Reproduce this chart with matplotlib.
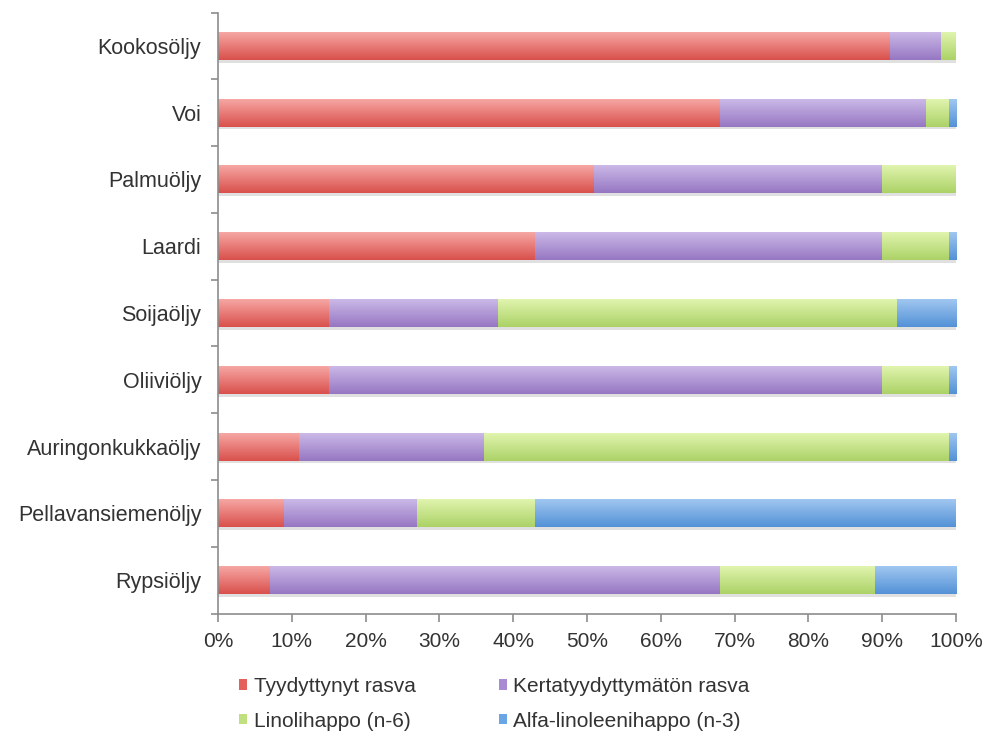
import numpy as np
import matplotlib.pyplot as plt
from matplotlib.colors import LinearSegmentedColormap
from matplotlib.patches import Patch
import matplotlib.patheffects as pe

plt.rcParams['font.family'] = ['Liberation Sans', 'DejaVu Sans']

# rasvahappokoostumus (%), ylhäältä alas
oljyt = ['Kookosöljy', 'Voi', 'Palmuöljy', 'Laardi', 'Soijaöljy',
         'Oliiviöljy', 'Auringonkukkaöljy', 'Pellavansiemenöljy', 'Rypsiöljy']
tyydyttynyt = [91, 68, 51, 43, 15, 15, 11, 9, 7]
kertatyydyttymaton = [7, 28, 39, 47, 23, 75, 25, 18, 61]
linolihappo = [2, 3, 10, 9, 54, 9, 63, 16, 21]
alfalinoleeni = [0, 1, 0, 1, 8, 1, 1, 57, 11]

sarjat = ['Tyydyttynyt rasva', 'Kertatyydyttymätön rasva',
          'Linolihappo (n-6)', 'Alfa-linoleenihappo (n-3)']
arvot = [tyydyttynyt, kertatyydyttymaton, linolihappo, alfalinoleeni]
# (vaalea yläreuna, tumma alareuna, selitteen väri)
varit = [('#f7aaa7', '#d9504c', '#e4605c'),
         ('#cdbbe9', '#9677c2', '#a88bd2'),
         ('#e2f5b0', '#acd267', '#c0e07f'),
         ('#a3c9f2', '#5391d6', '#6aa6e6')]

fig = plt.figure(figsize=(9.87, 7.38), dpi=100)
ax = fig.add_axes([218/987, 1-613.5/738, 738/987, 601/738])

y = np.arange(len(oljyt))
vasen = np.zeros(len(oljyt))
for arvo, (vaalea, tumma, _) in zip(arvot, varit):
    arvo = np.array(arvo, dtype=float)
    palkit = ax.barh(y, arvo, left=vasen, height=0.42, color=tumma, linewidth=0)
    cmap = LinearSegmentedColormap.from_list('liuku', [vaalea, tumma])
    for p in palkit:
        if p.get_width() <= 0:
            continue
        p.set_path_effects([pe.SimplePatchShadow(offset=(0, -2), shadow_rgbFace='#999999', alpha=0.3),
                            pe.Normal()])
        x0, y0 = p.get_x(), p.get_y()
        im = ax.imshow(np.linspace(0, 1, 64).reshape(-1, 1), cmap=cmap, aspect='auto',
                       extent=(x0, x0 + p.get_width(), y0, y0 + p.get_height()),
                       origin='lower', interpolation='bilinear', zorder=2.5)
        im.set_clip_path(p)
    vasen += arvo

ax.set_xlim(0, 100)
ax.set_ylim(len(oljyt) - 0.5, -0.5)
ax.set_xticks(np.arange(0, 101, 10))
ax.set_xticklabels([f'{v}%' for v in range(0, 101, 10)])
ax.set_yticks(y)
ax.set_yticklabels(oljyt)
ax.set_yticks(np.arange(-0.5, len(oljyt)), minor=True)

for s in ['top', 'right']:
    ax.spines[s].set_visible(False)
for s in ['left', 'bottom']:
    ax.spines[s].set_color('#8c8c8c')
    ax.spines[s].set_linewidth(1.2)
ax.tick_params(axis='y', which='major', length=0, pad=12, labelsize=15.5, labelcolor='#333333')
ax.tick_params(axis='y', which='minor', length=5, color='#8c8c8c', width=1.2)
ax.tick_params(axis='x', length=6, color='#8c8c8c', width=1.2, pad=7,
               labelsize=15, labelcolor='#333333')

# selite riveittäin: matplotlib täyttää sarakkeittain, joten järjestys vaihdetaan
jarj = [0, 2, 1, 3]
kahvat = [Patch(facecolor=varit[i][2]) for i in jarj]
fig.legend(kahvat, [sarjat[i] for i in jarj], ncol=2, loc='upper left',
           bbox_to_anchor=(239/987, 1-677/738), frameon=False,
           borderaxespad=0, borderpad=0,
           fontsize=15, handlelength=0.4, handleheight=0.4,
           handletextpad=0.3, columnspacing=4.0, labelspacing=0.75,
           labelcolor='#333333')

fig.savefig('out.png', dpi=100)
